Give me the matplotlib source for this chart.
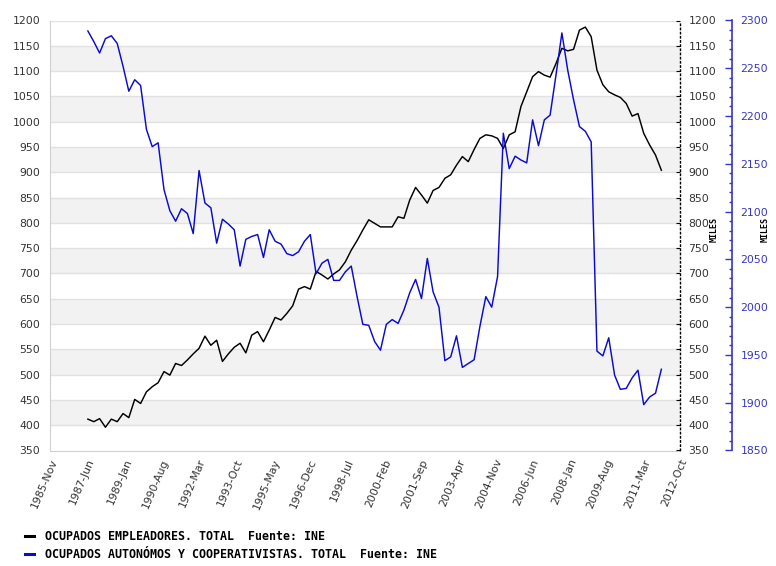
import numpy as np
import pandas as pd
import matplotlib
matplotlib.use("Agg")
import matplotlib.pyplot as plt
import matplotlib.ticker as mticker

# Datos trimestrales (miles)
empleadores = [
    412, 407, 413, 396, 412, 407, 423, 415, 451, 443,
    466, 476, 484, 506, 499, 522, 518, 529, 541, 552,
    576, 558, 568, 526, 541, 554, 562, 543, 578, 585,
    565, 588, 613, 608, 621, 636, 669, 674, 669, 704,
    697, 689, 699, 707, 723, 746, 765, 786, 806, 799,
    792, 792, 792, 812, 809, 845, 870, 855, 839, 864,
    870, 888, 895, 914, 931, 921, 945, 967, 974, 972,
    967, 947, 974, 980, 1030, 1059, 1089, 1099, 1092, 1088,
    1115, 1145, 1140, 1143, 1181, 1187, 1168, 1102, 1073, 1059,
    1053, 1048, 1036, 1011, 1016, 977, 954, 934, 904,
]
autonomos = [
    2289, 2278, 2266, 2281, 2284, 2276, 2252, 2226, 2238, 2232,
    2186, 2168, 2172, 2123, 2101, 2090, 2103, 2098, 2077, 2143,
    2109, 2104, 2067, 2092, 2087, 2081, 2043, 2071, 2074, 2076,
    2052, 2081, 2069, 2066, 2056, 2054, 2058, 2069, 2076, 2035,
    2046, 2050, 2028, 2028, 2037, 2043, 2011, 1982, 1981, 1964,
    1955, 1982, 1987, 1983, 1997, 2015, 2029, 2009, 2051, 2016,
    2000, 1944, 1948, 1970, 1937, 1941, 1945, 1980, 2011, 2000,
    2032, 2182, 2145, 2158, 2154, 2151, 2196, 2169, 2196, 2201,
    2243, 2287, 2248, 2217, 2189, 2184, 2173, 1954, 1949, 1968,
    1929, 1914, 1915, 1926, 1934, 1898, 1906, 1910, 1935,
]
fechas = pd.date_range("1987-05-15", periods=len(empleadores), freq="3MS") + pd.Timedelta(days=14)

x_labels = ["1985-Nov", "1987-Jun", "1989-Jan", "1990-Aug", "1992-Mar", "1993-Oct",
            "1995-May", "1996-Dec", "1998-Jul", "2000-Feb", "2001-Sep", "2003-Apr",
            "2004-Nov", "2006-Jun", "2008-Jan", "2009-Aug", "2011-Mar", "2012-Oct"]
x_ticks = pd.to_datetime(x_labels, format="%Y-%b")

etiquetas = ["OCUPADOS EMPLEADORES. TOTAL  Fuente: INE",
             "OCUPADOS AUTONÓMOS Y COOPERATIVISTAS. TOTAL  Fuente: INE"]

azul = "#0a0ad2"
azul_eje = "#3535c8"
gris_txt = "#333333"

fig = plt.figure(figsize=(7.76, 5.66), dpi=100)
ax = fig.add_axes([50 / 776, 1 - 450.5 / 566, 630 / 776, 430 / 566])

# Bandas grises y rejilla
for y0 in range(400, 1200, 100):
    ax.axhspan(y0, y0 + 50, color="#f2f2f2", zorder=0, lw=0)
for y in range(400, 1201, 50):
    ax.axhline(y, color="#e2e2e2", lw=1, zorder=0.5)

l1, = ax.plot(fechas, empleadores, color="black", lw=1.05, zorder=3)
ax.set_ylim(350, 1200)
ax.set_xlim(x_ticks[0], x_ticks[-1])
ax.set_yticks(range(350, 1201, 50))
ax.tick_params(axis="y", length=0, pad=7, labelsize=7.8, labelcolor=gris_txt)
ax.set_xticks(x_ticks)
ax.set_xticklabels(x_labels, rotation=67, ha="right", rotation_mode="anchor",
                   fontsize=7.8, color=gris_txt)
ax.tick_params(axis="x", length=0, pad=5)
for s in ["top", "right"]:
    ax.spines[s].set_visible(False)
for s in ["left", "bottom"]:
    ax.spines[s].set_color("#d0d0d0")

# Eje derecho punteado (misma escala)
ax2 = ax.twinx()
ax2.set_ylim(350, 1200)
ax2.set_yticks(range(350, 1201, 50))
ax2.tick_params(axis="y", direction="in", length=3, width=0.8, pad=6,
                labelsize=7.8, labelcolor=gris_txt)
for s in ["top", "left", "bottom"]:
    ax2.spines[s].set_visible(False)
ax2.spines["right"].set_linestyle((0, (1, 2)))
ax2.spines["right"].set_linewidth(1.0)

# Eje azul
ax3 = ax.twinx()
l2, = ax3.plot(fechas, autonomos, color=azul, lw=1.05, zorder=3)
ax3.set_ylim(1850, 2300)
ax3.spines["right"].set_position(("axes", 1 + 52 / 630))
ax3.spines["right"].set_color(azul_eje)
ax3.spines["right"].set_linewidth(1.2)
for s in ["top", "left", "bottom"]:
    ax3.spines[s].set_visible(False)
ax3.yaxis.set_major_locator(mticker.MultipleLocator(50))
ax3.yaxis.set_minor_locator(mticker.MultipleLocator(10))
ax3.tick_params(axis="y", which="major", direction="in", length=5, width=1,
                color=azul_eje, pad=6, labelsize=7.8, labelcolor=azul_eje)
ax3.tick_params(axis="y", which="minor", direction="in", length=2.5, width=1,
                color=azul_eje)

for xm in [714, 765]:
    fig.text(xm / 776, 1 - 230 / 566, "MILES", rotation=90, ha="center", va="center",
             fontsize=6, fontweight="bold", family="DejaVu Sans Mono")

leg = fig.legend([l1, l2], etiquetas, loc="upper left",
                 bbox_to_anchor=(25 / 776, 1 - 530 / 566), frameon=False,
                 handlelength=0.8, handletextpad=0.9, labelspacing=0.45,
                 borderpad=0, borderaxespad=0,
                 prop={"family": "DejaVu Sans Mono", "weight": "bold", "size": 8.4})
for h in leg.get_lines():
    h.set_linewidth(2.2)

fig.savefig("out.png", dpi=100)
